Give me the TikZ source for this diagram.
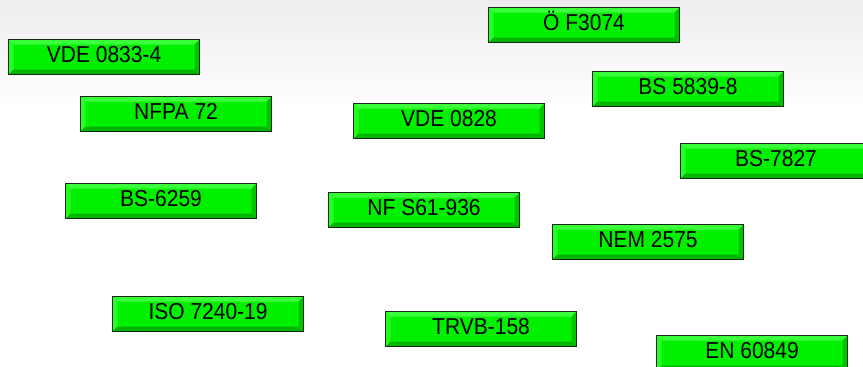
\documentclass[tikz,border=0pt]{standalone}
\usepackage{fontspec}
\setmainfont{Liberation Sans}
\usepackage{graphicx}
\definecolor{boxfill}{HTML}{00F000}
\definecolor{bevtop}{HTML}{3CFF3C}
\definecolor{bevleft}{HTML}{22FF22}
\definecolor{bevbot}{HTML}{00B400}
\definecolor{bevright}{HTML}{00C400}
\definecolor{boxedge}{HTML}{142814}
\definecolor{bgtop}{HTML}{EDEDED}
\newcommand{\lbl}[1]{\raisebox{-2pt}{\scalebox{1}[1.1]{#1}}}
\tikzset{
  stdbox/.style={
    anchor=north west, inner sep=0pt,
    minimum width=191pt, minimum height=35pt,
    fill=boxfill, draw=boxedge, line width=1.1pt,
    font=\fontsize{21}{24}\selectfont, text=black,
    text height=0.755em, text depth=0pt,
    path picture={
      \fill[bevtop] (path picture bounding box.north west) -- (path picture bounding box.north east)
        -- ([shift={(-5pt,-5pt)}]path picture bounding box.north east)
        -- ([shift={(5pt,-5pt)}]path picture bounding box.north west) -- cycle;
      \fill[bevleft] (path picture bounding box.north west) -- (path picture bounding box.south west)
        -- ([shift={(5pt,5pt)}]path picture bounding box.south west)
        -- ([shift={(5pt,-5pt)}]path picture bounding box.north west) -- cycle;
      \fill[bevbot] (path picture bounding box.south west) -- (path picture bounding box.south east)
        -- ([shift={(-5pt,5pt)}]path picture bounding box.south east)
        -- ([shift={(5pt,5pt)}]path picture bounding box.south west) -- cycle;
      \fill[bevright] (path picture bounding box.north east) -- (path picture bounding box.south east)
        -- ([shift={(-5pt,5pt)}]path picture bounding box.south east)
        -- ([shift={(-5pt,-5pt)}]path picture bounding box.north east) -- cycle;
      \draw[boxedge, line width=1.5pt] (path picture bounding box.south west) -- (path picture bounding box.south east);
    }
  }
}
\begin{document}
\begin{tikzpicture}[x=1pt,y=-1pt]
  \useasboundingbox (0,0) rectangle (863,367);
  \shade[top color=bgtop, bottom color=white] (0,0) rectangle (863,110);
  \begin{scope}
    \clip (0,0) rectangle (863,367);
    \node[stdbox] (vde08334) at (8,39)   {\lbl{VDE 0833-4}};
    \node[stdbox] (nfpa)     at (80,96)  {\lbl{NFPA 72}};
    \node[stdbox] (oef)      at (488,7)  {\lbl{Ö F3074}};
    \node[stdbox] (bs5839)   at (592,71) {\lbl{BS 5839-8}};
    \node[stdbox] (vde0828)  at (353,103){\lbl{VDE 0828}};
    \node[stdbox] (bs7827)   at (680,143){\lbl{BS-7827}};
    \node[stdbox] (bs6259)   at (65,183) {\lbl{BS-6259}};
    \node[stdbox] (nfs)      at (328,192){\lbl{NF S61-936}};
    \node[stdbox] (nem)      at (552,224){\lbl{NEM 2575}};
    \node[stdbox] (iso)      at (112,296){\lbl{ISO 7240-19}};
    \node[stdbox] (trvb)     at (385,311){\lbl{TRVB-158}};
    \node[stdbox] (en)       at (656,335){\lbl{EN 60849}};
  \end{scope}
\end{tikzpicture}
\end{document}
